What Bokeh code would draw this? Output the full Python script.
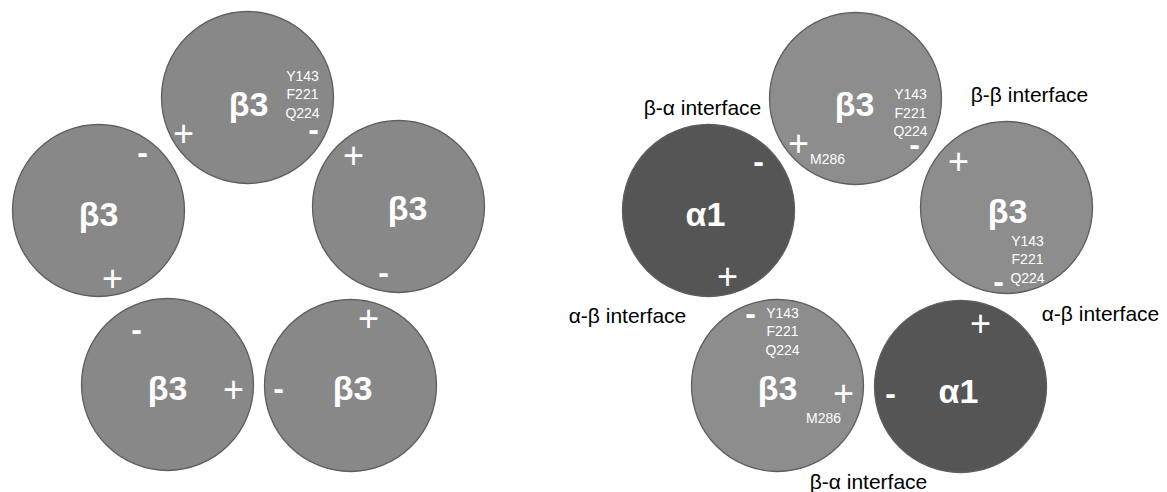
from bokeh.plotting import figure
from bokeh.models import Range1d, ColumnDataSource
from bokeh.core.properties import value
from bokeh.embed import file_html
from bokeh.resources import INLINE

# ---- subunits (circles) ----
sub_names = ["β3", "β3", "β3", "β3", "β3", "α1", "β3", "β3", "β3", "α1"]
sub_x = [247, 98, 398, 167, 350, 708, 855, 1006, 777, 960]
sub_y = [97, 210, 206, 384, 385, 210, 98, 207, 385, 386]
sub_fill = ["#888888", "#888888", "#888888", "#888888", "#888888",
            "#555555", "#8d8d8d", "#8d8d8d", "#8d8d8d", "#555555"]
sub_label_x = [248, 98, 407, 167, 352, 705, 854, 1007, 777, 958]
sub_label_y = [103, 213, 207, 387, 387, 213, 103, 210, 387, 390]

# ---- charge signs ----
sign_text = ["+", "-", "-", "+", "+", "-", "-", "+", "+", "-",
             "-", "+", "+", "-", "+", "-", "-", "+", "+", "-"]
sign_x = [183, 313, 142, 112, 353, 383, 136, 233, 368, 278,
          758, 727, 798, 914, 958, 998, 750, 843, 980, 890]
sign_y = [132, 128, 151, 277, 154, 271, 328, 388, 317, 387,
          160, 275, 142, 143, 160, 280, 312, 392, 322, 392]

# ---- residues ----
res_text = ["Y143", "F221", "Q224",
            "Y143", "F221", "Q224", "M286",
            "Y143", "F221", "Q224",
            "Y143", "F221", "Q224", "M286"]
res_x = [302, 302, 302,
         910, 910, 910, 827,
         1027, 1027, 1027,
         782, 782, 782, 823]
res_y = [75, 93, 112,
         93, 112, 130, 158,
         240, 258, 277,
         312, 330, 349, 417]

# ---- interface labels ----
iface_text = ["β-α interface", "β-β interface", "α-β interface",
              "α-β interface", "β-α interface"]
iface_x = [702, 1029, 627, 1100, 868]
iface_y = [107, 94, 315, 313, 481]

W, H = 1167, 492
p = figure(width=W, height=H, output_backend="svg", toolbar_location=None,
           x_range=Range1d(0, W), y_range=Range1d(H, 0),
           min_border=0)
p.axis.visible = False
p.grid.visible = False
p.outline_line_color = None
p.background_fill_color = "white"
p.border_fill_color = "white"

src = ColumnDataSource(dict(x=sub_x, y=sub_y, fill=sub_fill))
p.circle(x="x", y="y", radius=86, source=src, fill_color="fill",
         line_color="#5e5e5e", line_width=1.3)

font = value("Liberation Sans")
p.text(x=sub_label_x, y=sub_label_y, text=sub_names, text_font=font,
       text_font_size="34px", text_font_style="bold", text_color="white",
       text_align="center", text_baseline="middle")

plus_x = [x for x, t in zip(sign_x, sign_text) if t == "+"]
plus_y = [y for y, t in zip(sign_y, sign_text) if t == "+"]
minus_x = [x for x, t in zip(sign_x, sign_text) if t == "-"]
minus_y = [y for y, t in zip(sign_y, sign_text) if t == "-"]
p.text(x=plus_x, y=plus_y, text=["+"] * len(plus_x), text_font=font,
       text_font_size="36px", text_color="white",
       text_align="center", text_baseline="middle")
p.text(x=minus_x, y=minus_y, text=["-"] * len(minus_x), text_font=font,
       text_font_size="32px", text_font_style="bold", text_color="white",
       text_align="center", text_baseline="middle")

p.text(x=res_x, y=res_y, text=res_text, text_font=font,
       text_font_size="14px", text_color="white",
       text_align="center", text_baseline="middle")
p.text(x=iface_x, y=iface_y, text=iface_text, text_font=font,
       text_font_size="21px", text_color="black",
       text_align="center", text_baseline="middle")

open("out.html", "w").write(file_html(p, INLINE))
